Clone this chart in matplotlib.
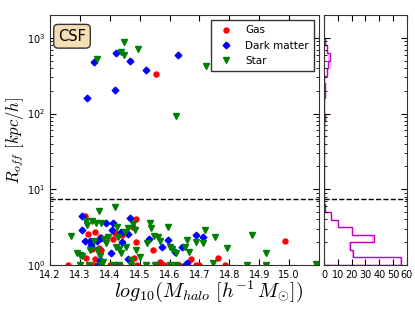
import matplotlib
matplotlib.use("Agg")
import matplotlib.pyplot as plt
import numpy as np

plt.rcParams['mathtext.fontset'] = 'cm'
plt.rcParams['font.family'] = 'DejaVu Sans'

# scatter data: log10 halo mass vs. offset radius [kpc/h]
gas_m = [14.317, 14.328, 14.350, 14.339, 14.350, 14.367, 14.372, 14.411, 14.417,
         14.442, 14.476, 14.487, 14.487, 14.480, 14.544, 14.567, 14.671, 14.761,
         14.787, 14.987, 14.556, 14.261, 14.330, 14.345, 14.400, 14.435, 14.490,
         14.560, 14.580, 14.600, 14.630, 14.660, 14.690, 14.700, 14.363, 14.322]
gas_r = [4.5, 2.57, 2.76, 1.61, 1.21, 2.33, 1.58, 2.19, 2.63,
         2.5, 3.16, 4.0, 2.0, 1.23, 1.6, 1.1, 1.2, 1.25,
         1.0, 2.06, 336, 1.0, 1.0, 1.0, 1.0, 1.0, 1.0,
         1.0, 1.0, 1.0, 1.0, 1.0, 1.0, 1.0, 1.7, 1.25]

dm_m = [14.306, 14.306, 14.317, 14.333, 14.336, 14.356, 14.367, 14.387, 14.406,
        14.411, 14.403, 14.439, 14.442, 14.461, 14.467, 14.461, 14.531, 14.576,
        14.594, 14.617, 14.640, 14.689, 14.711, 14.658, 14.372,
        14.324, 14.348, 14.417, 14.420, 14.469, 14.520, 14.627,
        14.360, 14.420, 14.650]
dm_r = [4.5, 2.9, 2.1, 2.1, 1.84, 2.1, 1.16, 3.56, 2.9,
        3.64, 1.43, 2.76, 2.04, 2.57, 4.15, 1.19, 2.19, 1.71,
        2.14, 1.5, 1.75, 2.5, 2.33, 1.05, 2.3,
        160, 484, 203, 629, 500, 375, 590,
        1.0, 1.0, 1.0]

star_m = [14.269, 14.291, 14.300, 14.308, 14.320, 14.324, 14.333, 14.340, 14.353,
          14.364, 14.372, 14.347, 14.380, 14.387, 14.394, 14.358, 14.367, 14.378,
          14.417, 14.424, 14.428, 14.422, 14.431, 14.439, 14.450, 14.453, 14.461,
          14.476, 14.483, 14.489, 14.472, 14.500, 14.536, 14.539, 14.524, 14.547,
          14.561, 14.569, 14.594, 14.600, 14.609, 14.620, 14.650, 14.658, 14.664,
          14.720, 14.711, 14.689, 14.753, 14.792, 14.876, 14.924, 14.744, 14.858,
          14.924, 15.089,
          14.356, 14.437, 14.447, 14.447, 14.494, 14.620, 14.722,
          14.300, 14.330, 14.370, 14.410, 14.430, 14.470, 14.520, 14.550, 14.600,
          14.620]
star_r = [2.42, 1.43, 1.36, 1.32, 3.86, 3.39, 1.58, 3.86, 3.57,
          5.2, 3.63, 2.1, 2.19, 1.94, 2.33, 1.58, 1.32, 1.1,
          5.8, 3.16, 2.33, 1.75, 1.61, 1.43, 2.76, 1.75, 3.06,
          3.49, 2.91, 1.58, 1.16, 1.26, 3.63, 3.06, 1.97, 2.42,
          2.33, 2.1, 3.16, 1.75, 1.61, 1.43, 1.74, 2.14, 1.5,
          2.91, 1.94, 2.04, 2.37, 1.66, 2.5, 1.46, 1.05, 1.0,
          1.0, 1.03,
          519, 656, 590, 890, 705, 94, 425,
          1.0, 1.0, 1.0, 1.0, 1.0, 1.0, 1.0, 1.0, 1.0,
          1.0]

# histogram of log10(R_off), bins of 0.1 dex
bin_edges_log = [0.0, 0.1, 0.2, 0.3, 0.4, 0.5, 0.6, 0.7, 0.8, 0.9, 1.0,
                 1.1, 1.2, 1.3, 1.4, 1.5, 1.6, 1.7, 1.8, 1.9, 2.0,
                 2.1, 2.2, 2.3, 2.4, 2.5, 2.6, 2.7, 2.8, 2.9, 3.0]
counts_all = [56, 21, 19, 36, 20, 10, 5, 1, 0, 0,
              0, 0, 0, 0, 0, 0, 0, 0, 0, 1,
              0, 0, 1, 1, 0, 2, 3, 4, 2, 1]
counts_alt = [55, 20, 18, 35, 20, 10, 5, 1, 0, 0,
              0, 0, 0, 0, 0, 0, 0, 0, 0, 1,
              0, 0, 1, 1, 0, 2, 4, 3, 2, 1]

r_cut = 7.5
x_ticks = [14.2, 14.3, 14.4, 14.5, 14.6, 14.7, 14.8, 14.9, 15.0]
hist_ticks = [0, 10, 20, 30, 40, 50, 60]

fig = plt.figure(figsize=(4.15, 3.12), dpi=100)
ax = fig.add_axes([0.1205, 0.1506, 0.6482, 0.8013])
axh = fig.add_axes([0.7807, 0.1506, 0.2000, 0.8013])

ax.plot(gas_m, gas_r, 'o', color='r', mec='r', ms=3.6, label='Gas')
ax.plot(dm_m, dm_r, 'D', color='b', mec='b', ms=3.4, label='Dark matter')
ax.plot(star_m, star_r, 'v', color='g', mec='g', ms=4.0, label='Star')
ax.axhline(r_cut, color='k', ls='--', lw=1)

ax.set_yscale('log')
ax.set_xlim(14.2, 15.1)
ax.set_ylim(1, 2000)
ax.set_xticks(x_ticks)
ax.set_xlabel(r'$log_{10}(M_{halo}\ [h^{-1}\,M_{\odot}])$', fontsize=14.5)
ax.set_ylabel(r'$R_{off}\ [kpc/h]$', fontsize=12)
ax.xaxis.set_label_coords(0.591, -0.055)
ax.yaxis.set_label_coords(-0.088, 0.5)

for a in (ax, axh):
    a.tick_params(which='both', direction='in', top=True, right=True, labelsize=7)
    a.tick_params(which='major', length=4.5)
    a.tick_params(which='minor', length=2.5)
    for s in a.spines.values():
        s.set_color('#333333')

leg = ax.legend(loc='upper right', numpoints=1, fontsize=7.5, fancybox=False,
                edgecolor='#333333', framealpha=1, borderpad=0.5, handletextpad=0.8)
leg.get_frame().set_linewidth(1)

ax.text(0.03, 0.945, 'CSF', transform=ax.transAxes, fontsize=10.5, va='top', ha='left',
        bbox=dict(boxstyle='round,pad=0.3', facecolor='wheat', edgecolor='#333333'))

edges = 10 ** np.array(bin_edges_log)
axh.stairs(counts_alt, edges, orientation='horizontal', color='violet', lw=1, alpha=0.6)
axh.stairs(counts_all, edges, orientation='horizontal', color='m', lw=1)
axh.axhline(r_cut, color='k', ls='--', lw=1)
axh.set_yscale('log')
axh.set_ylim(1, 2000)
axh.set_xlim(0, 60)
axh.set_xticks(hist_ticks)
axh.tick_params(labelleft=False, labelright=False)

fig.savefig('out.png', dpi=100)
